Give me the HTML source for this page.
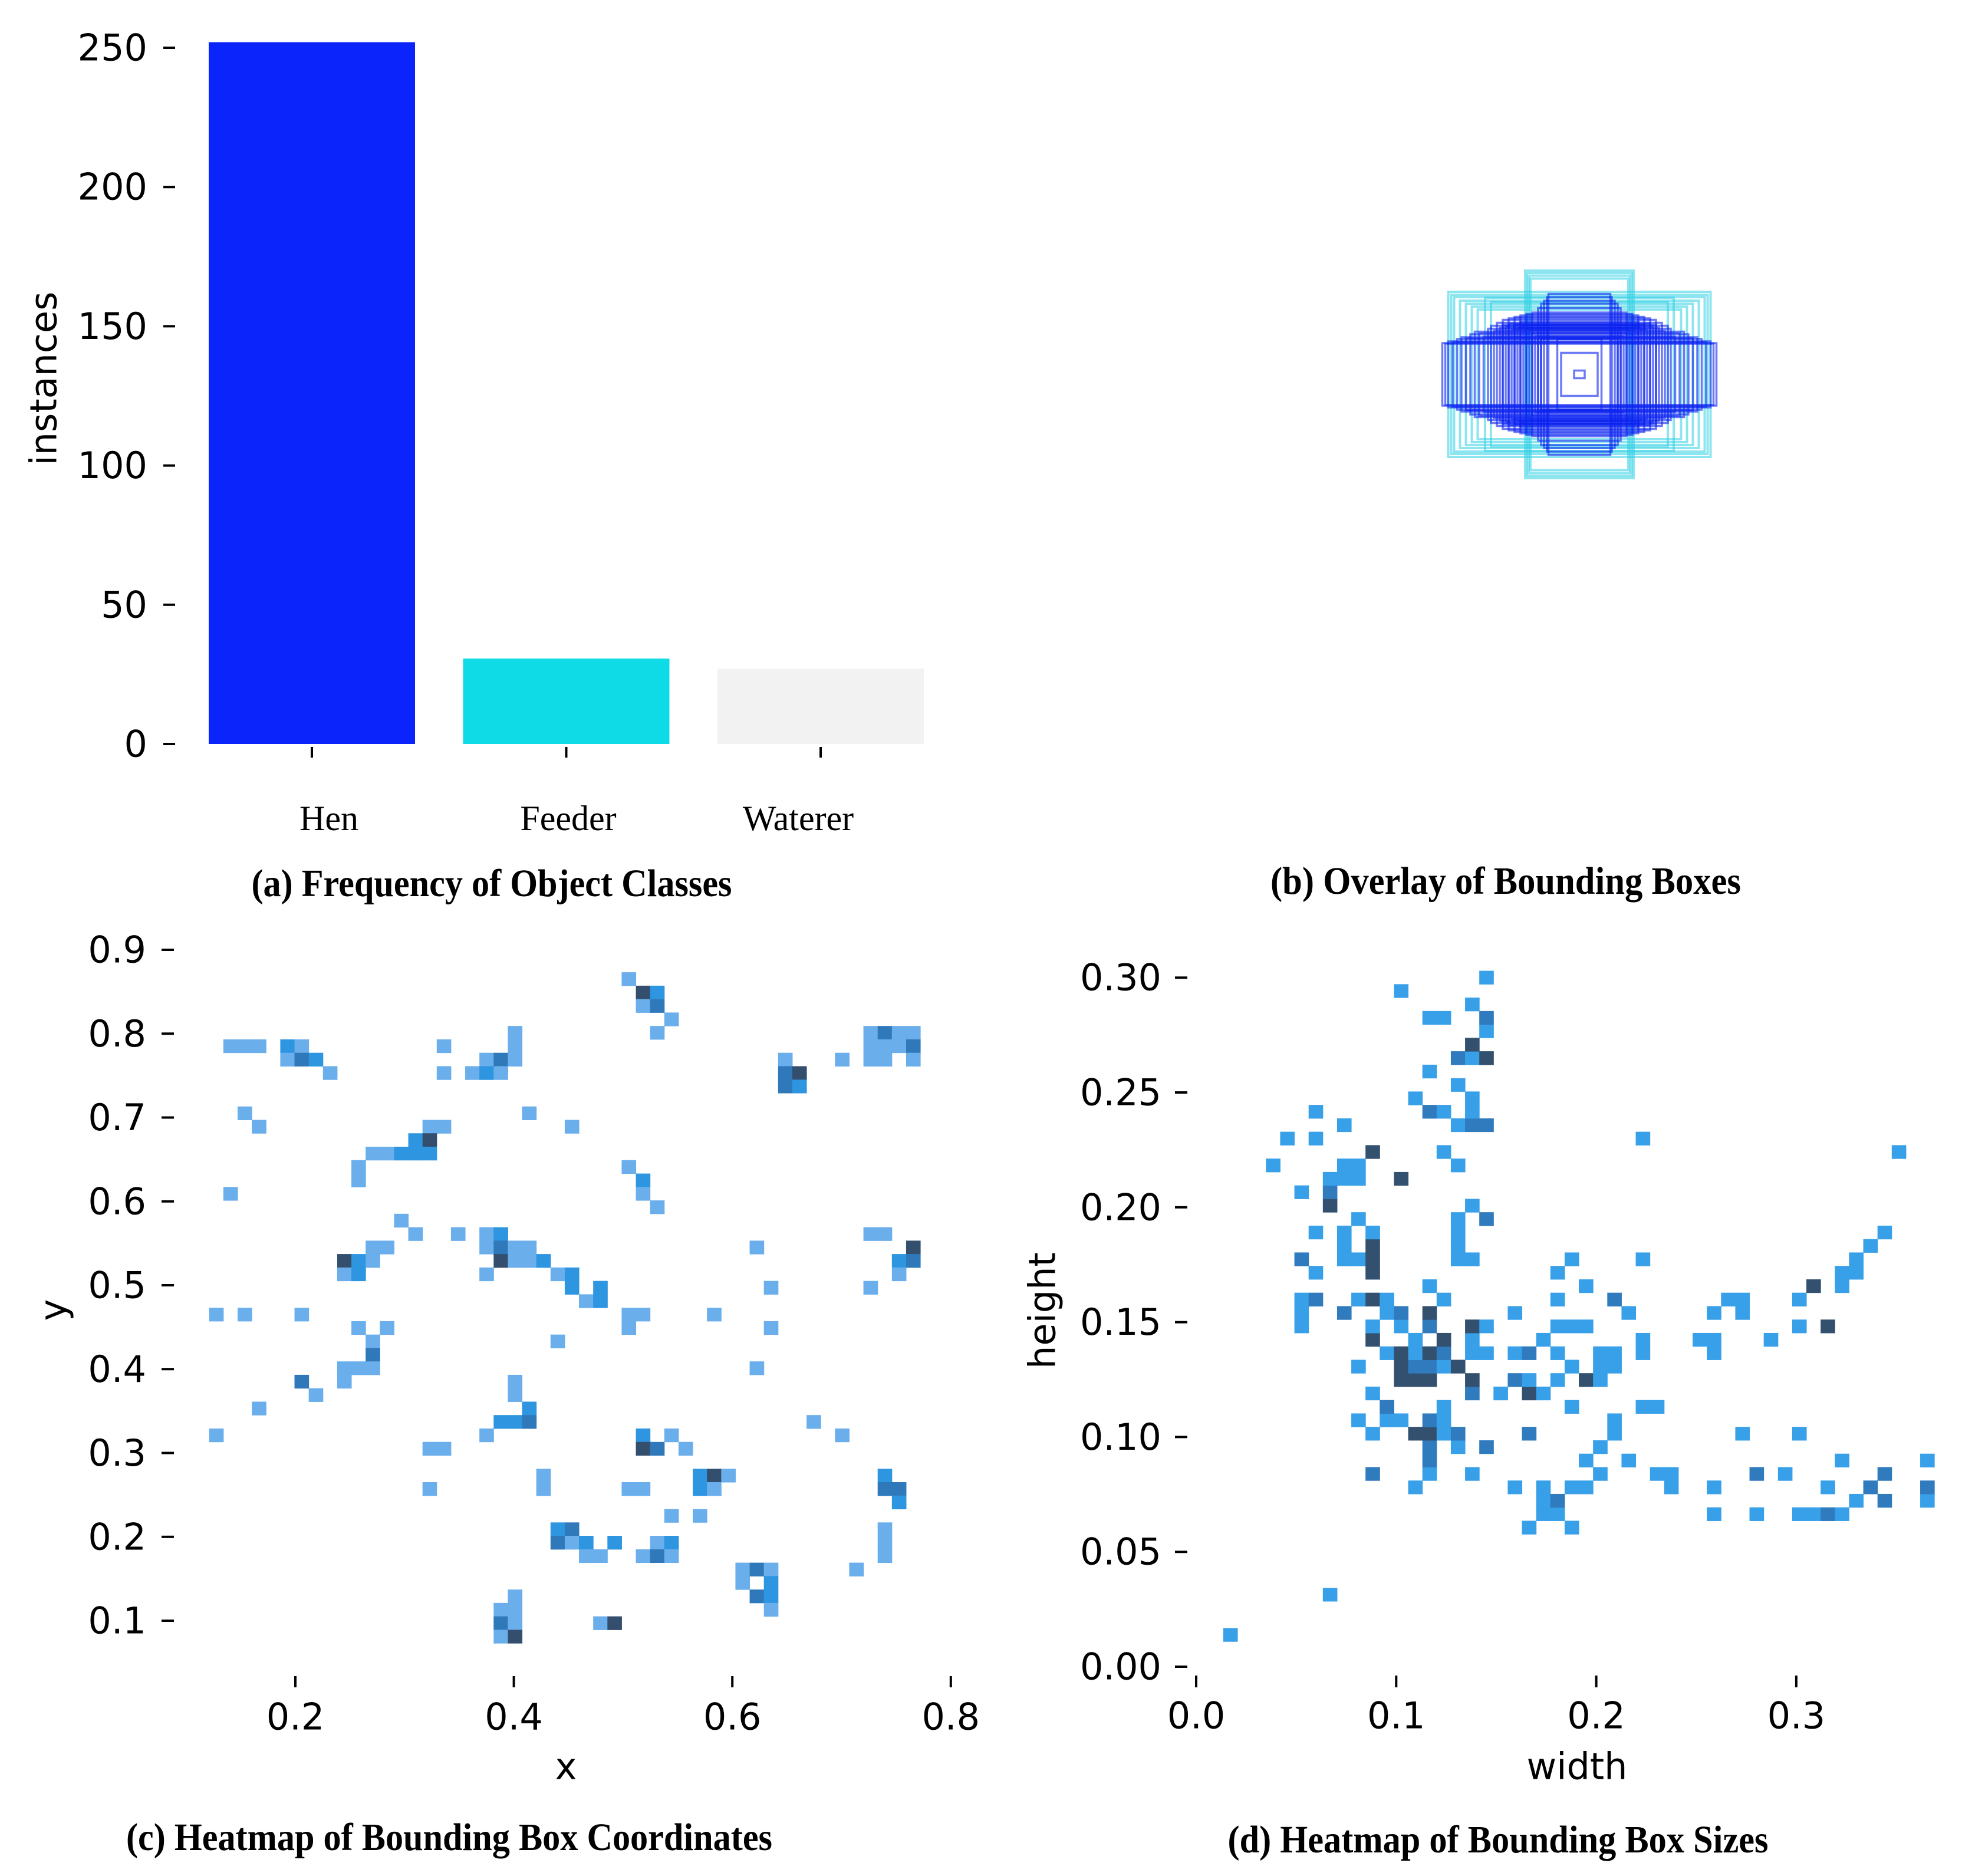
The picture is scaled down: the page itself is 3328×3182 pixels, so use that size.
<!DOCTYPE html>
<html><head><meta charset="utf-8"><style>
html,body{margin:0;padding:0;background:#fff;}
svg{display:block;}
.tk{font-family:"DejaVu Sans","Liberation Sans",sans-serif;font-size:62px;fill:#000;}
.cl{font-family:"Liberation Serif",serif;font-size:60px;fill:#000;}
.cap{font-family:"Liberation Serif",serif;font-size:66px;font-weight:bold;fill:#000;}
</style></head><body>
<svg id="fig" width="3328" height="3182" viewBox="0 0 3328 3182" xmlns="http://www.w3.org/2000/svg">
<rect width="3328" height="3182" fill="#fff"/>
<g id="pa"></g>
<g id="pb"></g>
<g id="pc"></g>
<g id="pd"></g>
<text class="tk" x="74" y="642" text-anchor="middle" dominant-baseline="central" transform="rotate(-90 74 642)">instances</text>
<text class="cap" x="834" y="1520" text-anchor="middle" textLength="815" lengthAdjust="spacingAndGlyphs">(a) Frequency of Object Classes</text>
<text class="cap" x="2554" y="1516" text-anchor="middle" textLength="798" lengthAdjust="spacingAndGlyphs">(b) Overlay of Bounding Boxes</text>
<text class="tk" x="960" y="2996" text-anchor="middle" dominant-baseline="central">x</text>
<text class="tk" x="90" y="2222" text-anchor="middle" dominant-baseline="central" transform="rotate(-90 90 2222)">y</text>
<text class="cap" x="762" y="3138" text-anchor="middle" textLength="1096" lengthAdjust="spacingAndGlyphs">(c) Heatmap of Bounding Box Coordinates</text>
<text class="tk" x="2675" y="2996" text-anchor="middle" dominant-baseline="central">width</text>
<text class="tk" x="1768" y="2223" text-anchor="middle" dominant-baseline="central" transform="rotate(-90 1768 2223)">height</text>
<text class="cap" x="2541" y="3142" text-anchor="middle" textLength="917" lengthAdjust="spacingAndGlyphs">(d) Heatmap of Bounding Box Sizes</text>
</svg>
<script>
// ---------- Panel (a) data ----------
const classNames = ["Hen", "Feeder", "Waterer"];
const classCounts = [252, 30.7, 27.1];
const classColors = ["#0a24fb", "#0fdbe6", "#f2f2f2"];
const aTicks = [0, 50, 100, 150, 200, 250];

// ---------- Panel (b) data (normalized box sizes) ----------
const henW = [0.465,0.455,0.445,0.43,0.415,0.40,0.385,0.37,0.355,0.34,0.325,0.31,0.30,0.29,0.28,0.27,0.26,0.25,0.24,0.23,0.22,0.21,0.20,0.19,0.18,0.17,0.16,0.15,0.14,0.13,0.105,0.11,0.12,0.13,0.14,0.16,0.18,0.20,0.22,0.24,0.26,0.075,0.062,0.018];
const henH = [0.106,0.104,0.112,0.11,0.12,0.126,0.122,0.136,0.145,0.14,0.128,0.155,0.165,0.148,0.175,0.158,0.168,0.162,0.172,0.152,0.168,0.158,0.178,0.168,0.158,0.15,0.14,0.13,0.125,0.12,0.273,0.262,0.25,0.24,0.225,0.21,0.205,0.2,0.195,0.19,0.185,0.12,0.073,0.013];
const feedW = [0.184,0.178,0.172,0.166,0.445,0.435,0.425,0.405,0.385,0.365,0.345,0.32,0.30];
const feedH = [0.352,0.344,0.335,0.325,0.28,0.27,0.262,0.25,0.24,0.23,0.22,0.26,0.245];

// ---------- Panel (c) data: histogram bins (col, row-from-top, count) ----------
const cTicksX = [0.2, 0.4, 0.6, 0.8];
const cTicksY = [0.1, 0.2, 0.3, 0.4, 0.5, 0.6, 0.7, 0.8, 0.9];
const cRowIdx = [0,1,2,3,4,5,6,7,8,10,11,12,13,14,15,16,17,18,19,20,21,22,23,24,25,26,27,28,29,30,31,32,33,34,35,37,38,39,40,41,42,43,44,45,46,47,48,49];
const cRowCols = [[29],[30,31],[30,31],[32],[21,31,46,47,48,49],[1,2,3,5,6,16,21,46,47,48,49],[5,6,7,19,20,21,40,44,46,47,49],[8,16,18,19,20,40,41],[40,41],[2,22],[3,15,16,25],[14,15],[11,12,13,14,15],[10,29],[10,30],[1,30],[31],[13],[14,17,19,20,46,47],[11,12,19,20,21,22,38,49],[9,10,11,20,21,22,23,48,49],[9,10,19,24,25,48],[25,27,39,46],[26,27],[0,2,6,29,30,35],[10,12,29,39],[11,24],[11],[9,10,11,38],[6,9,21],[7,21],[3,22],[20,21,22,42],[0,19,30,32,44],[15,16,30,31,33],[23,34,35,36,47],[15,23,29,30,34,35,47,48],[48],[32,34],[24,25,47],[24,25,26,28,31,32,47],[26,27,30,31,32,47],[37,38,39,45],[37,39],[21,38,39],[20,21,39],[20,21,27,28],[20,21]];
const cRowCounts = [[1],[4,2],[1,3],[1],[1,1,1,3,1,1],[1,1,1,2,1,1,1,1,1,1,3],[1,3,2,1,3,1,1,1,1,1,1],[1,1,1,2,1,3,4],[3,2],[1,1],[1,1,1,1],[2,4],[1,1,2,2,2],[1,1],[1,2],[1,1],[1],[1],[1,1,1,2,1,1],[1,1,1,3,1,1,1,4],[4,2,1,4,1,1,2,2,3],[1,2,1,1,2,1],[2,2,1,1],[1,2],[1,1,1,1,1,1],[1,1,1,1],[1,1],[3],[1,1,1,1],[3,1,1],[1,1],[1,2],[2,2,3,1],[1,1,2,1,1],[1,1,4,3,1],[1,2,4,1,2],[1,1,1,1,2,1,3,3],[2],[1,1],[2,3,1],[3,1,2,2,1,2,1],[1,1,1,3,1,1],[1,3,1,1],[1,2],[1,3,2],[1,1,1],[3,1,1,4],[1,4]];
const cBinX0 = 0.1276, cBinDX = 0.01302, cBinY0 = 0.8652, cBinDY = 0.016;

// ---------- Panel (d) data: bins (col, row-from-bottom, count) ----------
const dTicksX = [0.0, 0.1, 0.2, 0.3];
const dTicksY = [0.00, 0.05, 0.10, 0.15, 0.20, 0.25, 0.30];
const dRowIdx = [0,3,8,9,10,11,12,13,14,15,16,17,18,19,20,21,22,23,24,25,26,27,28,29,30,31,32,33,34,35,36,37,38,39,40,41,42,43,44,45,46,47,48,49];
const dRowCols = [[0],[7],[21,24],[22,23,34,37,40,41,42,43],[22,23,44,46,49],[13,20,22,24,25,31,34,42,45,49],[10,14,17,26,30,31,37,39,46],[14,25,28,43,49],[14,16,18,26],[10,13,14,15,16,21,27,36,40],[9,11,12,14,15,27],[11,15,24,29,30],[10,17,19,21,22],[12,13,14,17,20,21,23,25,26],[9,12,13,14,15,16,24,26,27],[11,12,13,14,15,17,18,20,21,23,26,27,29,34],[10,13,15,17,22,29,33,34,38],[5,10,12,14,17,18,23,24,25,40,42],[5,8,11,12,14,20,28,34,36],[5,6,9,10,11,15,23,27,35,36,40],[14,25,41,43],[6,10,23,43,44],[5,8,9,10,16,17,24,29,44],[8,10,16,45],[6,8,10,16,46],[9,16,18],[7,17],[5,7],[7,8,9,12],[3,8,9,16],[10,15,47],[4,6,29],[8,16,17,18],[6,14,15,17],[13,17],[16],[14],[16,17,18],[17],[18],[14,15,18],[17],[12],[18]];
const dRowCounts = [[1],[1],[1,1],[1,1,1,1,1,1,2,1],[1,2,1,2,1],[1,1,1,1,1,1,1,1,2,2],[2,1,1,1,1,1,2,1,2],[2,1,1,1,1],[2,1,2,1],[1,3,3,1,2,2,1,1,1],[1,1,1,2,1,1],[2,1,1,1,1],[1,2,1,3,1],[3,3,3,3,2,1,1,3,1],[1,3,2,2,1,3,1,1,1],[1,3,1,3,2,1,1,1,2,1,1,1,1,1],[3,1,3,1,1,1,1,1,1],[1,1,1,2,3,1,1,1,1,1,3],[1,2,1,2,3,1,1,1,1],[1,2,1,3,1,1,1,2,1,1,1],[1,1,3,1],[1,3,1,1,1],[2,1,1,3,1,1,1,1,1],[1,3,1,1],[1,1,1,1,1],[1,1,2],[3,1],[1,2],[1,1,1,3],[1,1,1,1],[3,1,1],[1,1,1],[1,1,2,2],[1,2,1,1],[1,1],[1],[1],[2,1,3],[3],[1],[1,1,2],[1],[1],[1]];
const dBinX0 = 0.0171, dBinDX = 0.00711, dBinY0 = 0.0139, dBinDY = 0.00584;

const NS = "http://www.w3.org/2000/svg";
function mk(tag, parent, attrs) {
  const e = document.createElementNS(NS, tag);
  for (const k in attrs) e.setAttribute(k, attrs[k]);
  parent.appendChild(e);
  return e;
}

// ---------- axis functions ----------
const aY = v => 1262 - v * (1181 / 250);
const aXc = i => 529 + i * 431.5;
const aBarW = 350;
const cX = v => 501 + (v - 0.2) / 0.1 * 185.3;
const cY = v => 1611 + (0.9 - v) / 0.1 * 142.25;
const dX = v => 2029 + v / 0.1 * 339.3;
const dY = v => 2827 - v / 0.05 * 194.8;

// ---------- Panel (a) ----------
const pa = document.getElementById("pa");
const aLabelX = [558, 964, 1354];
classCounts.forEach((v, i) => {
  const r = mk("rect", pa, {x: aXc(i) - aBarW / 2, y: aY(v), width: aBarW, height: aY(0) - aY(v), fill: classColors[i]});
  
  
  const tm = mk("line", pa, {x1: aXc(i), x2: aXc(i), y1: 1267, y2: 1285, stroke: "#000", "stroke-width": 4});
  
  
  const t = mk("text", pa, {x: aLabelX[i], y: 1408, "text-anchor": "middle", class: "cl"});
  t.textContent = classNames[i];
  
  
});
aTicks.forEach(v => {
  const l = mk("line", pa, {x1: 277, x2: 297, y1: aY(v), y2: aY(v), stroke: "#000", "stroke-width": 4});
  
  
  const t = mk("text", pa, {x: 250, y: aY(v), "text-anchor": "end", "dominant-baseline": "central", class: "tk"});
  t.textContent = String(v);
  
  
});

// ---------- Panel (b) ----------
const pb = document.getElementById("pb");
const bCx = 2679, bCy = 635, bS = 1000;
feedW.forEach((w, i) => {
  const r = mk("rect", pb, {x: bCx - w * bS / 2, y: bCy - feedH[i] * bS / 2, width: w * bS, height: feedH[i] * bS, fill: "none", stroke: "#2fd0e4", "stroke-opacity": 0.55, "stroke-width": 4});
  
  
});
henW.forEach((w, i) => {
  const r = mk("rect", pb, {x: bCx - w * bS / 2, y: bCy - henH[i] * bS / 2, width: w * bS, height: henH[i] * bS, fill: "none", stroke: "#0a22f0", "stroke-opacity": 0.6, "stroke-width": 3.5});
  
  
});

// ---------- Panel (c) ----------
const pc = document.getElementById("pc");
const cColors = ["", "#6aaeeb", "#2e95e0", "#2f79bb", "#344f6e"];
cRowIdx.forEach((row, k) => {
  cRowCols[k].forEach((col, m) => {
    const xv = cBinX0 + col * cBinDX, yv = cBinY0 - row * cBinDY;
    const x0 = cX(xv - cBinDX / 2), x1 = cX(xv + cBinDX / 2);
    const y0 = cY(yv + cBinDY / 2), y1 = cY(yv - cBinDY / 2);
    const r = mk("rect", pc, {x: x0, y: y0, width: x1 - x0 + 0.5, height: y1 - y0 + 0.5, fill: cColors[cRowCounts[k][m]]});
    
    
  });
});
cTicksX.forEach(v => {
  const l = mk("line", pc, {x1: cX(v), x2: cX(v), y1: 2843, y2: 2862, stroke: "#000", "stroke-width": 4});
  
  
  const t = mk("text", pc, {x: cX(v), y: 2912, "text-anchor": "middle", "dominant-baseline": "central", class: "tk"});
  t.textContent = v.toFixed(1);
  
  
});
cTicksY.forEach(v => {
  const l = mk("line", pc, {x1: 274, x2: 295, y1: cY(v), y2: cY(v), stroke: "#000", "stroke-width": 4});
  
  
  const t = mk("text", pc, {x: 248, y: cY(v), "text-anchor": "end", "dominant-baseline": "central", class: "tk"});
  t.textContent = v.toFixed(1);
  
  
});

// ---------- Panel (d) ----------
const pd = document.getElementById("pd");
const dColors = ["", "#38a0e8", "#2f7bbd", "#33506f"];
dRowIdx.forEach((row, k) => {
  dRowCols[k].forEach((col, m) => {
    const xv = dBinX0 + col * dBinDX, yv = dBinY0 + row * dBinDY;
    const x0 = dX(xv - dBinDX / 2), x1 = dX(xv + dBinDX / 2);
    const y0 = dY(yv + dBinDY / 2), y1 = dY(yv - dBinDY / 2);
    const r = mk("rect", pd, {x: x0, y: y0, width: x1 - x0 + 0.5, height: y1 - y0 + 0.5, fill: dColors[dRowCounts[k][m]]});
    
    
  });
});
dTicksX.forEach(v => {
  const l = mk("line", pd, {x1: dX(v), x2: dX(v), y1: 2842, y2: 2862, stroke: "#000", "stroke-width": 4});
  
  
  const t = mk("text", pd, {x: dX(v), y: 2910, "text-anchor": "middle", "dominant-baseline": "central", class: "tk"});
  t.textContent = v.toFixed(1);
  
  
});
dTicksY.forEach(v => {
  const l = mk("line", pd, {x1: 1993, x2: 2014, y1: dY(v), y2: dY(v), stroke: "#000", "stroke-width": 4});
  
  
  const t = mk("text", pd, {x: 1970, y: dY(v), "text-anchor": "end", "dominant-baseline": "central", class: "tk"});
  t.textContent = v.toFixed(2);
  
  
});
</script>
</body></html>
